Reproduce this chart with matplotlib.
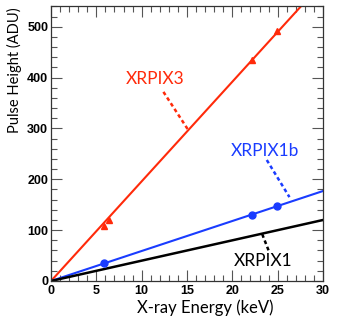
import numpy as np
import matplotlib.pyplot as plt
from matplotlib.ticker import MultipleLocator

# energies of the calibration lines (keV)
energy = [5.9, 6.4, 22.2, 24.9]
# measured peaks (ADU)
ph_xrpix3 = [108, 120, 435, 492]
ph_xrpix1b = [35, 130, 148]
en_xrpix1b = [5.9, 22.2, 24.9]

# linear gain fits (ADU/keV)
gain3 = 19.6
gain1b = 5.9
gain1 = 4.0

xfit = np.array([0, 30])

fig = plt.figure(figsize=(3.52, 3.27), dpi=100)
ax = fig.add_axes([0.1449, 0.1407, 0.7727, 0.841])

ax.plot(xfit, gain3 * xfit, color='#ff2a0a', lw=1.5)
ax.plot(xfit, gain1b * xfit, color='#1a3cff', lw=1.5)
ax.plot(xfit, gain1 * xfit, color='black', lw=1.8)
ax.plot(energy, ph_xrpix3, '^', color='#ff2a0a', ms=5)
ax.plot(en_xrpix1b, ph_xrpix1b, 'o', color='#1a3cff', ms=5)

# labels with dashed pointers
lab = dict(family=['Lato', 'DejaVu Sans'], fontsize=12.5, ha='center', va='center')
ax.text(11.5, 398, 'XRPIX3', color='#ff2a0a', **lab)
ax.plot([12.4, 15.1], [372, 298], ls=(0, (1.5, 1.2)), color='#ff2a0a', lw=1.8)
ax.text(23.6, 256, 'XRPIX1b', color='#1a3cff', **lab)
ax.plot([23.8, 26.3], [238, 165], ls=(0, (1.5, 1.2)), color='#1a3cff', lw=1.8)
ax.text(23.4, 39, 'XRPIX1', color='black', **lab)
ax.plot([23.3, 24.0], [92, 60], ls=(0, (1.5, 1.2)), color='black', lw=1.8)

ax.set_xlim(0, 30)
ax.set_ylim(0, 541)
ax.xaxis.set_major_locator(MultipleLocator(5))
ax.xaxis.set_minor_locator(MultipleLocator(1))
ax.yaxis.set_major_locator(MultipleLocator(100))
ax.yaxis.set_minor_locator(MultipleLocator(20))
ax.tick_params(which='both', direction='in', top=True, right=True, color='#555555', width=0.8)
ax.tick_params(which='major', length=8)
ax.tick_params(which='minor', length=4)
ax.tick_params(axis='x', pad=3)
ax.tick_params(axis='y', pad=2)
for t in ax.get_xticklabels() + ax.get_yticklabels():
    t.set_fontweight('bold')
    t.set_fontsize(9)
    t.set_family(['Liberation Sans', 'DejaVu Sans'])
for sp in ax.spines.values():
    sp.set_color('#333333')
    sp.set_linewidth(0.9)

ax.set_xlabel('X-ray Energy (keV)', family=['Lato', 'DejaVu Sans'], fontsize=12, va='top')
ax.set_ylabel('Pulse Height (ADU)', family=['Lato', 'DejaVu Sans'], fontsize=10.5, loc='top')
ax.xaxis.set_label_coords(0.567, -0.068)
ax.yaxis.set_label_coords(-0.107, 0.995)

fig.savefig('out.png', dpi=100)
